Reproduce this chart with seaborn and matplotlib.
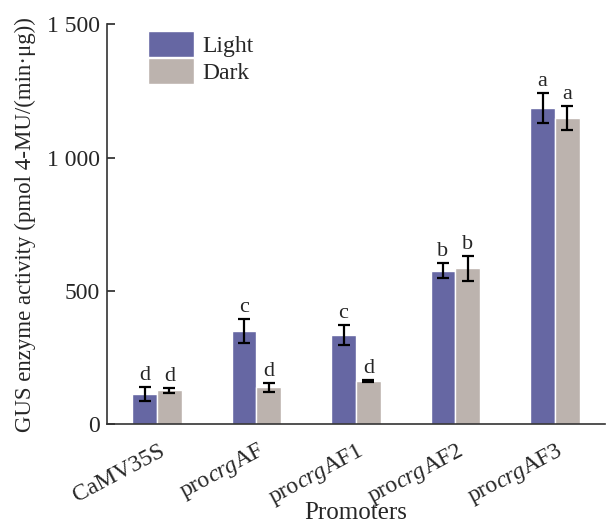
import pandas as pd
import numpy as np
import matplotlib
matplotlib.use('Agg')
import matplotlib.pyplot as plt
import matplotlib.transforms as mtransforms
import seaborn as sns

sns.set_theme(style='ticks')
plt.rcParams['font.family'] = ['Liberation Serif', 'DejaVu Serif']

# Data
promoters = ['CaMV35S', 'procrgAF', 'procrgAF1', 'procrgAF2', 'procrgAF3']
italic_part = 'crg'
light = [112, 349, 334, 575, 1185]
light_err = [26, 45, 38, 28, 56]
dark = [127, 139, 161, 585, 1149]
dark_err = [10, 17, 4, 47, 45]
light_sig = ['d', 'c', 'c', 'b', 'a']
dark_sig = ['d', 'd', 'd', 'b', 'a']

df = pd.DataFrame({
    'Promoter': promoters * 2,
    'Condition': ['Light'] * 5 + ['Dark'] * 5,
    'Activity': light + dark,
})

fig = plt.figure(figsize=(6.09, 5.27), dpi=100)
ax = fig.add_axes([0.176, 0.195, 0.817, 0.759])

sns.barplot(data=df, x='Promoter', y='Activity', hue='Condition',
            palette={'Light': '#6667a3', 'Dark': '#bcb3ae'},
            width=0.5, errorbar=None, saturation=1, ax=ax)

# error bars and significance letters
for cont, errs, sig in zip(ax.containers, [light_err, dark_err], [light_sig, dark_sig]):
    for bar, e, s in zip(cont, errs, sig):
        xc = bar.get_x() + bar.get_width() / 2
        h = bar.get_height()
        ax.errorbar(xc, h, yerr=e, color='black', capsize=4, elinewidth=1.6,
                    capthick=1.6)
        ax.text(xc, h + e + 8, s, ha='center', va='bottom', fontsize=16)

ax.set_ylim(0, 1500)
ax.set_xlim(-0.5, 4.5)
ax.set_yticks([0, 500, 1000, 1500])
ax.set_yticklabels(['0', '500', '1 000', '1 500'], fontsize=17)
ax.tick_params(axis='y', direction='in', length=6, width=1.2, pad=5)
ax.tick_params(axis='x', length=0, labelbottom=False)
for s in ['top', 'right']:
    ax.spines[s].set_visible(False)
for s in ['left', 'bottom']:
    ax.spines[s].set_color('#333333')
    ax.spines[s].set_linewidth(1.2)

ax.set_xlabel('Promoters', fontsize=18)
ax.xaxis.set_label_coords(0.5, -0.195)
ax.set_ylabel('GUS enzyme activity (pmol 4-MU/(min·μg))', fontsize=16.5, labelpad=8)

ax.legend(loc='upper left', bbox_to_anchor=(0.04, 1.035), frameon=False,
          fontsize=17, handlelength=1.95, handleheight=1.3, labelspacing=0.05,
          handletextpad=0.35)

# rotated category labels with the italic gene name, built piece by piece
fig.canvas.draw()
renderer = fig.canvas.get_renderer()
ang = 28
ca, sa = np.cos(np.radians(ang)), np.sin(np.radians(ang))
y0 = ax.transData.transform((0, 0))[1]
px = mtransforms.IdentityTransform()
for i, name in enumerate(promoters):
    if italic_part in name:
        a, b = name.split(italic_part)
        pieces = [(a, 'normal'), (italic_part, 'italic'), (b, 'normal')]
    else:
        pieces = [(name, 'normal')]
    widths = []
    for txt, st in pieces:
        t = fig.text(0, 0, txt, fontsize=17, style=st)
        widths.append(t.get_window_extent(renderer).width)
        t.remove()
    total = sum(widths)
    xe = ax.transData.transform((i, 0))[0] + 9
    ye = y0 - 30
    xs, ys = xe - total * ca, ye - total * sa
    pos = 0
    for (txt, st), w in zip(pieces, widths):
        fig.text(xs + pos * ca, ys + pos * sa, txt, fontsize=17, style=st,
                 rotation=ang, rotation_mode='anchor', ha='left',
                 va='baseline', transform=px)
        pos += w

plt.savefig('out.png', dpi=100)
plt.close()
